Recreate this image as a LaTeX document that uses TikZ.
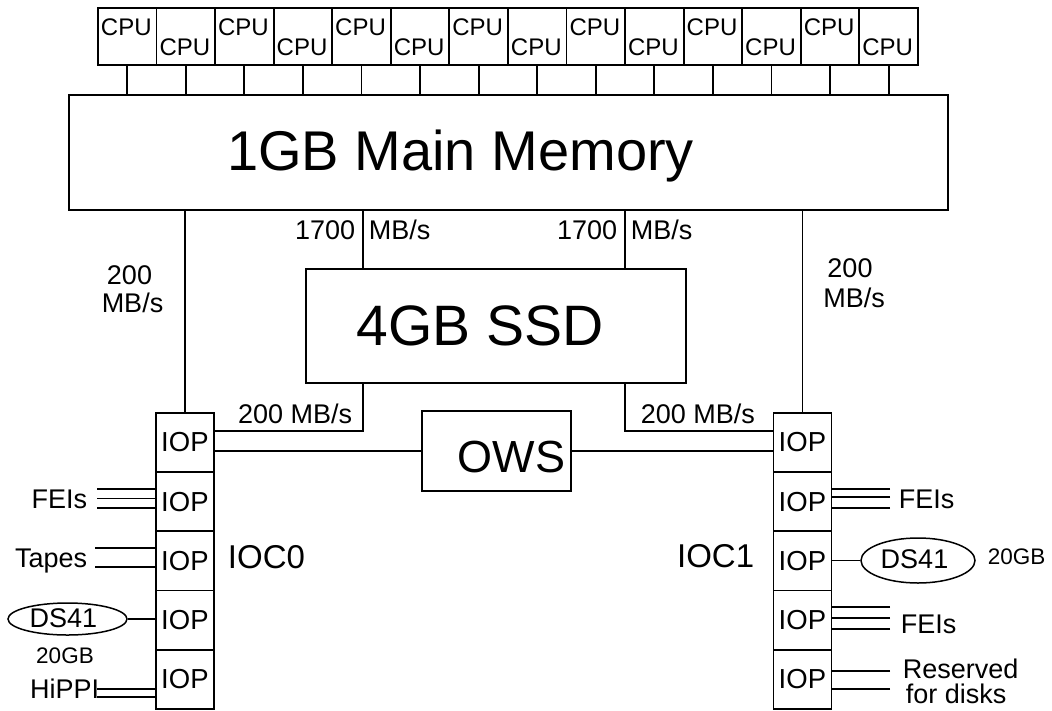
\documentclass[tikz,border=0pt]{standalone}
\usepackage{fontspec}
\setmainfont{Liberation Sans}
\usetikzlibrary{shapes.geometric}
\newcommand\myfs[1]{\fontsize{#1}{#1}\selectfont}
\begin{document}
\begin{tikzpicture}[x=1pt,y=-1pt,line width=1.8pt,
  box/.style={draw,line width=1.8pt,inner sep=0pt,anchor=north west},
  iop/.style={draw,line width=1.8pt,inner sep=0pt,minimum width=58pt,minimum height=59.2pt,anchor=north west,font=\myfs{27.5}},
  lbl/.style={inner sep=0pt,font=\myfs{27}},
  small/.style={inner sep=0pt,font=\myfs{22.5}},
  disk/.style={draw,ellipse,line width=1.5pt,inner sep=0pt},
  dev/.style={line width=1.5pt}]
\useasboundingbox (0,0) rectangle (1052,710);
% main memory
\node[box,minimum width=879pt,minimum height=115pt] (mem) at (68,94) {};
\node[inner sep=0pt,anchor=base,font=\myfs{56}] (memtxt) at (460.5,170) {1GB Main Memory};
% CPUs
\foreach \i in {0,...,13}{
  \pgfmathsetmacro\xl{97+\i*58.57}
  \pgfmathsetmacro\yb{mod(\i,2)==0 ? 35 : 55}
  \node[box,minimum width=58.57pt,minimum height=57pt] (cpu\i) at (\xl,7) {};
  \node[inner sep=0pt,anchor=base,font=\myfs{24}] (cput\i) at (\xl+29.3,\yb) {CPU};
  \draw (cpu\i.south) -- (cpu\i.south |- mem.north);
}
% SSD
\node[box,minimum width=380pt,minimum height=114pt] (ssd) at (305,268) {};
\node[inner sep=0pt,anchor=base,font=\myfs{57}] (ssdtxt) at (480,345) {4GB SSD};
% OWS
\node[box,minimum width=149pt,minimum height=80pt] (ows) at (421,410) {};
\node[inner sep=0pt,anchor=base,font=\myfs{45}] (owstxt) at (511.5,472) {OWS};
% IOP stacks
\foreach \k in {1,...,5}{
  \pgfmathsetmacro\yt{412+(\k-1)*59.2}
  \node[iop] (L\k) at (155,\yt) {IOP};
  \node[iop] (R\k) at (772.5,\yt) {IOP};
}
% buses
\coordinate (ta) at (363,0);
\coordinate (tb) at (625,0);
\coordinate (hy) at (0,431);
\draw (L1.north |- mem.south) -- (L1.north);
\draw (R1.north |- mem.south) -- (R1.north);
\draw (ta |- mem.south) -- (ta |- ssd.north);
\draw (tb |- mem.south) -- (tb |- ssd.north);
\draw (ta |- ssd.south) -- (ta |- hy) -- (L1.east |- hy);
\draw (tb |- ssd.south) -- (tb |- hy) -- (R1.west |- hy);
\draw (ows.west) -- (ows.west -| L1.east);
\draw (ows.east) -- (ows.east -| R1.west);
% bandwidth labels
\node[lbl,anchor=base] (l200a) at (129.5,284.5) {200};
\node[lbl,anchor=base] (l200b) at (132.5,312.5) {MB/s};
\node[lbl,anchor=base] (r200a) at (850,277.5) {200};
\node[lbl,anchor=base] (r200b) at (854,307.5) {MB/s};
\node[lbl,anchor=base east] (l1700a) at (356,239.5) {1700};
\node[lbl,anchor=base west] (l1700b) at (368,239.5) {MB/s};
\node[lbl,anchor=base east] (r1700a) at (618,239.5) {1700};
\node[lbl,anchor=base west] (r1700b) at (630,239.5) {MB/s};
\node[lbl,anchor=base east] (lssd) at (353,423) {200 MB/s};
\node[lbl,anchor=base west] (rssd) at (640,423) {200 MB/s};
% IOC labels
\node[inner sep=0pt,anchor=base west,font=\myfs{33}] (ioc0) at (227,568) {IOC0};
\node[inner sep=0pt,anchor=base east,font=\myfs{33}] (ioc1) at (755,567) {IOC1};
% left devices
\coordinate (fl1) at (97,489); \coordinate (fl2) at (97,498.5); \coordinate (fl3) at (97,508);
\foreach \c in {fl1,fl2,fl3}{ \draw[dev] (\c) -- (\c -| L2.west); }
\node[lbl,anchor=base east] (feil) at (88,508) {FEIs};
\coordinate (tp1) at (95,548); \coordinate (tp2) at (95,567);
\foreach \c in {tp1,tp2}{ \draw[dev] (\c) -- (\c -| L3.west); }
\node[lbl,anchor=base east] (tapes) at (88,567) {Tapes};
\node[disk,minimum width=119pt,minimum height=32pt] (dsL) at (67.5,619) {};
\node[lbl,anchor=base] (dsLt) at (63.5,627) {DS41};
\draw[dev] (dsL.east) -- (dsL.east -| L4.west);
\node[small,anchor=base] (gbL) at (65,663) {20GB};
\coordinate (hp1) at (97,689); \coordinate (hp2) at (97,697);
\foreach \c in {hp1,hp2}{ \draw[dev] (\c) -- (\c -| L5.west); }
\node[lbl,anchor=base east] (hippi) at (100,698) {HiPPI};
% right devices
\coordinate (fr1) at (890,489); \coordinate (fr2) at (890,497); \coordinate (fr3) at (890,508);
\foreach \c in {fr1,fr2,fr3}{ \draw[dev] (\c) -- (\c -| R2.east); }
\node[lbl,anchor=base west] (feir) at (898,508) {FEIs};
\node[disk,minimum width=114pt,minimum height=45pt] (dsR) at (918,560.5) {};
\node[lbl,anchor=base] (dsRt) at (914.5,568) {DS41};
\draw[dev] (dsR.west) -- (dsR.west -| R3.east);
\node[small,anchor=base west] (gbR) at (987,564) {20GB};
\coordinate (fs1) at (890,607); \coordinate (fs2) at (890,618); \coordinate (fs3) at (890,629);
\foreach \c in {fs1,fs2,fs3}{ \draw[dev] (\c) -- (\c -| R4.east); }
\node[lbl,anchor=base west] (feir2) at (900,633) {FEIs};
\coordinate (rs1) at (890,671); \coordinate (rs2) at (890,689);
\foreach \c in {rs1,rs2}{ \draw[dev] (\c) -- (\c -| R5.east); }
\node[lbl,anchor=base west] (resv) at (902,678) {Reserved};
\node[lbl,anchor=base west] (fordisks) at (905,703.5) {for disks};
\end{tikzpicture}
\end{document}
